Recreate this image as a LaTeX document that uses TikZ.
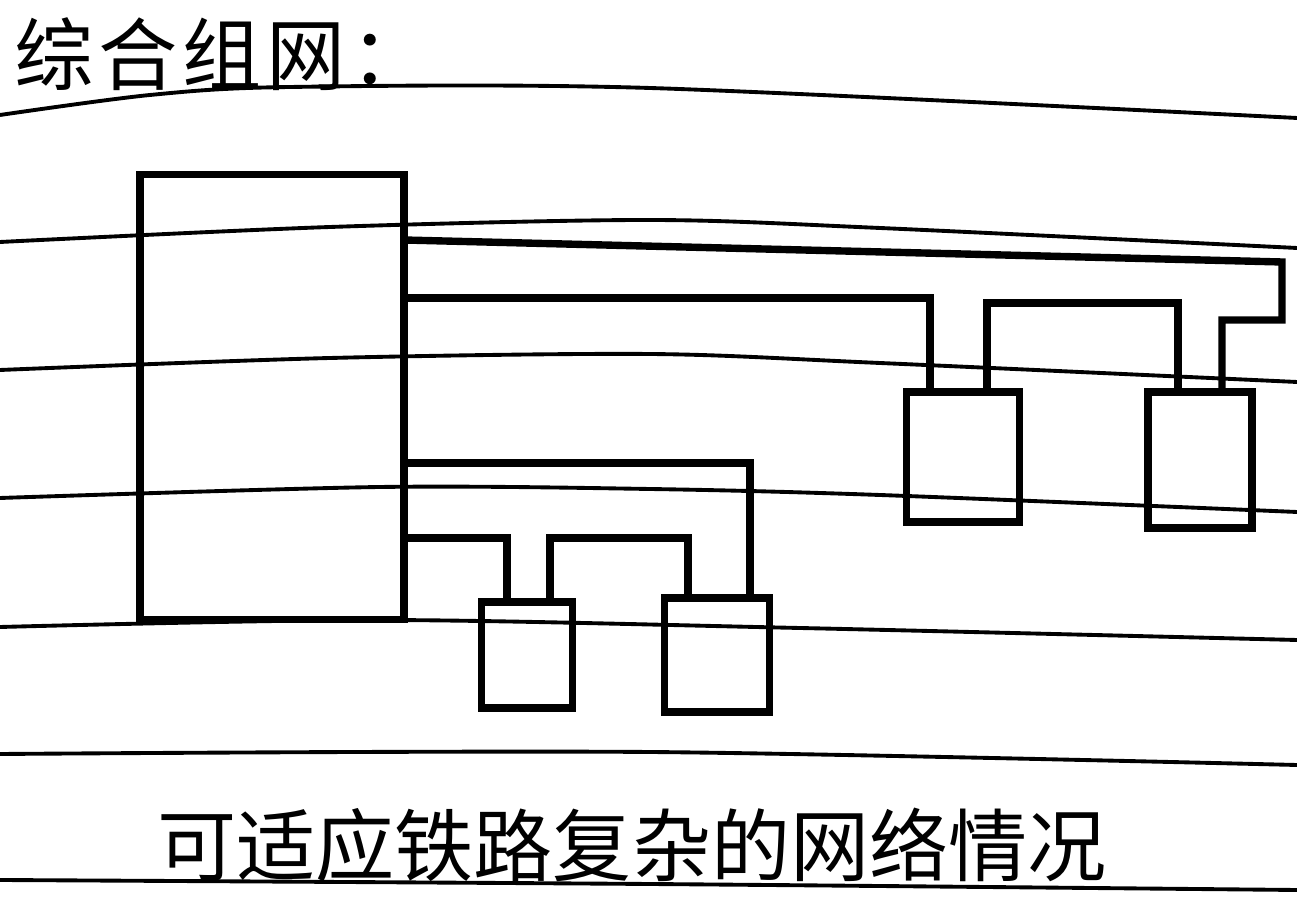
\documentclass[tikz,border=0pt]{standalone}
\usepackage{fontspec}
\usepackage{tikz}
\newfontfamily\cjk{Noto Sans CJK SC}

\begin{document}
\begin{tikzpicture}[x=0.01cm, y=-0.01cm,
  rule/.style={line width=1.1pt, line join=round},
  unit/.style={draw, line width=2.1pt, inner sep=0pt, outer sep=0pt},
  wire/.style={line width=2.1pt, line join=miter},
  hand/.style={font=\cjk\fontsize{22.5pt}{26pt}\selectfont, inner sep=0pt}]
\useasboundingbox (0,0) rectangle (1297,898);

% ruled paper
\draw[rule] plot[smooth] coordinates {(0,115) (150,95) (290,87) (650,88) (1297,118)};
\draw[rule] plot[smooth] coordinates {(0,242) (330,227) (650,220) (880,228) (1297,248)};
\draw[rule] plot[smooth] coordinates {(0,370) (330,358) (650,354) (880,363) (1297,382)};
\draw[rule] plot[smooth] coordinates {(0,498) (380,487) (650,489) (880,495) (1297,512)};
\draw[rule] plot[smooth] coordinates {(0,627) (380,620) (800,628) (1297,640)};
\draw[rule] plot[smooth] coordinates {(0,754) (650,752) (1297,765)};
\draw[rule] plot[smooth] coordinates {(0,880) (650,884) (1297,890)};

\node[hand, anchor=west] (title) at (14,54) {\addfontfeature{LetterSpace=6}综合组网：};
\node[hand] (note) at (632,845) {可适应铁路复杂的网络情况};

% boxes
\node[unit, minimum width=2.64cm, minimum height=4.45cm] (hub) at (272,397) {};
\node[unit, minimum width=0.91cm, minimum height=1.06cm] (swA) at (527,655) {};
\node[unit, minimum width=1.05cm, minimum height=1.14cm] (swB) at (717,655) {};
\node[unit, minimum width=1.13cm, minimum height=1.30cm] (swC) at (963,457) {};
\node[unit, minimum width=1.04cm, minimum height=1.36cm] (swD) at (1200,460) {};

% links
\draw[wire] (hub.east |- 0,240) -- (1282,262) -- (1282,320) -- (1222,320) -- (swD.north -| 1222,0);
\draw[wire] (hub.east |- 0,298) -| (swC.north -| 930,0);
\draw[wire] (swC.north -| 987,0) -- (987,303) -- (1178,303) -- (swD.north -| 1178,0);
\draw[wire] (hub.east |- 0,463) -| (swB.north -| 750,0);
\draw[wire] (hub.east |- 0,538) -| (swA.north -| 507,0);
\draw[wire] (swA.north -| 550,0) -- (550,538) -- (688,538) -- (swB.north -| 688,0);
\end{tikzpicture}
\end{document}
